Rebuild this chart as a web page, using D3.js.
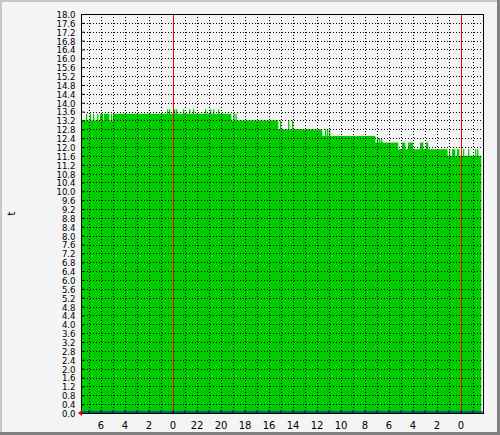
<!DOCTYPE html><html><head><script src="https://cdn.jsdelivr.net/npm/d3@7"></script>
<style>body{margin:0}svg{display:block}</style></head><body><script>
const yTicks = d3.range(0, 18.0001, 0.4);
const hourTicks = d3.range(-6, 26, 2);
// base levels: [startHour, endHour, value]
const baseSegments = [[-7.63,-4.96,13.2],[-4.96,4.88,13.5],[4.88,8.79,13.2],[8.79,12.46,12.8],[12.46,16.88,12.5],[16.88,18.79,12.2],[18.79,22.71,11.9],[22.71,25.71,11.6]];
// short spikes: [startHour, endHour, value]
const spikes = [[-7.21,-7.13,13.5],[-6.88,-6.8,13.5],[-6.63,-6.55,13.5],[-6.29,-6.21,13.5],[-6.04,-5.79,13.5],[-5.71,-5.29,13.5],[-5.13,-5.05,13.5],
[-0.46,-0.38,13.7],[-0.29,-0.21,13.7],[0.13,0.21,13.7],[0.29,0.37,13.7],[0.88,0.96,13.7],[1.38,1.46,13.7],[1.71,1.79,13.7],[2.71,2.79,13.7],[3.13,3.21,13.7],[3.38,3.46,13.7],[3.79,3.87,13.7],
[5.08,5.16,13.5],[5.25,5.33,13.5],[8.96,9.04,13.2],[9.63,9.71,13.2],[9.96,10.04,13.2],
[12.71,12.79,12.8],[12.88,12.96,12.8],[13.04,13.12,12.8],[17.04,17.12,12.4],[17.21,17.29,12.4],[17.38,17.46,12.4],
[19.13,19.38,12.2],[19.63,20.04,12.2],[20.63,20.88,12.2],[21.13,21.29,12.2],
[22.71,22.9,11.9],[23.04,23.12,11.9],[23.29,23.54,11.9],[23.71,23.88,11.9],[24.21,24.29,11.9],[24.63,24.71,11.9],[25.21,25.29,11.9],[25.38,25.46,11.9]];
const W=500,H=435, L=81,R=483,T=14,B=413;
const svg=d3.select("body").append("svg").attr("width",W).attr("height",H);
svg.append("rect").attr("width",W).attr("height",H).attr("fill","#f4f4f4");
svg.append("path").attr("d",`M0.5,${H}V0.5H${W}`).attr("stroke","#c8c8c8").attr("stroke-width",3).attr("fill","none");
svg.append("path").attr("d",`M0,${H-1.5}H${W-1.5}V0`).attr("stroke","#808080").attr("stroke-width",3).attr("fill","none");
const x=d3.scaleLinear().domain([-7.625,25.875]).range([L,R]);
const y=d3.scaleLinear().domain([0,18]).range([B,T]);
const g=svg.append("g");
const all=baseSegments.concat(spikes);
g.selectAll("rect.d").data(all).join("rect").attr("x",d=>x(d[0])).attr("width",d=>x(d[1])-x(d[0])+0.3)
 .attr("y",d=>y(d[2])).attr("height",d=>y(0)-y(d[2])).attr("fill","#00cc00");
g.selectAll("line.h").data(yTicks.slice(1)).join("line").attr("x1",L).attr("x2",R).attr("y1",d=>Math.round(y(d))+0.5).attr("y2",d=>Math.round(y(d))+0.5)
 .attr("stroke","#000").attr("stroke-dasharray","1,2");
g.selectAll("line.v").data(d3.range(-7,26,1)).join("line").attr("y1",T).attr("y2",B).attr("x1",d=>Math.round(x(d))+0.5).attr("x2",d=>Math.round(x(d))+0.5)
 .attr("stroke","#000").attr("stroke-dasharray","1,2");
g.selectAll("line.r").data([0,24]).join("line").attr("y1",T).attr("y2",B).attr("x1",d=>Math.round(x(d))+0.5).attr("x2",d=>Math.round(x(d))+0.5).attr("stroke","#ff0000");
const ya=d3.axisLeft(y).tickValues(yTicks).tickFormat(d3.format(".1f")).tickSize(-3).tickPadding(6);
svg.append("g").attr("transform",`translate(${L+0.5},0)`).call(ya).call(a=>{a.select(".domain").remove();a.selectAll("text").attr("font-family","DejaVu Sans Condensed, DejaVu Sans").attr("font-size",9.5).attr("dy","0.36em").attr("fill","#000")});
const xa=d3.axisBottom(x).tickValues(hourTicks).tickFormat(d=>((-d%24)+24)%24).tickSize(-3).tickPadding(8);
svg.append("g").attr("transform",`translate(0,${B+0.5})`).call(xa).call(a=>{a.select(".domain").remove();a.selectAll("text").attr("font-family","DejaVu Sans").attr("font-size",10).attr("fill","#000")});
svg.append("g").attr("transform",`translate(0,${B+0.5})`).selectAll("line").data(d3.range(-7,26,2)).join("line").attr("x1",d=>x(d)).attr("x2",d=>x(d)).attr("y1",0).attr("y2",-2).attr("stroke","#000");
svg.append("rect").attr("x",L+0.5).attr("y",T+0.5).attr("width",R-L).attr("height",B-T).attr("fill","none").attr("stroke","#000");
svg.append("line").attr("x1",L).attr("x2",R).attr("y1",B-1).attr("y2",B-1).attr("stroke","#0000cc");
svg.append("path").attr("d",`M${L-3},${B}l4,-3v6z`).attr("fill","#e00000");
svg.append("text").attr("transform",`translate(15,${(T+B)/2}) rotate(-90)`).attr("text-anchor","middle").attr("font-family","DejaVu Sans").attr("font-size",11).text("t");
</script></body></html>
